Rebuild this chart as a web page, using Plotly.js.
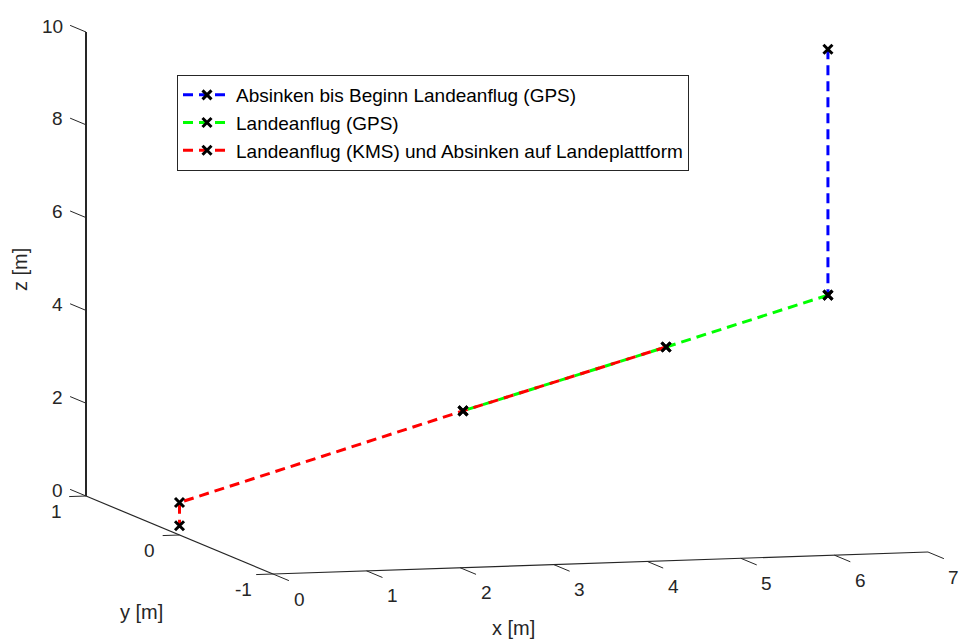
<!DOCTYPE html>
<html>
<head>
<meta charset="utf-8">
<script src="https://cdn.plot.ly/plotly-3.0.1.min.js"></script>
<style>html,body{margin:0;padding:0;background:#fff;}#chart{width:960px;height:640px;}</style>
</head>
<body>
<div id="chart"></div>
<script>
// ---------------- Data (metres) ----------------
const seriesNames = [
  'Absinken bis Beginn Landeanflug (GPS)',
  'Landeanflug (GPS)',
  'Landeanflug (KMS) und Absinken auf Landeplattform'
];
const seriesColors = ['#0000ff', '#00ff00', '#ff0000'];

const blueX = [6.93, 6.93];
const blueY = [0, 0];
const blueZ = [10.0, 4.7];

const greenX = [6.93, 5.2, 3.03];
const greenY = [0, 0, 0];
const greenZ = [4.7, 3.7, 2.47];

const redX = [5.2, 3.03, 0.0, 0.0];
const redY = [0, 0, 0, 0];
const redZ = [3.7, 2.47, 0.7, 0.2];

const xTicks = [0, 1, 2, 3, 4, 5, 6, 7];
const yTicks = [-1, 0, 1];
const zTicks = [0, 2, 4, 6, 8, 10];

const xRange = [0, 7], yRange = [-1, 1], zRange = [0, 10];

// ---------------- 3D -> screen projection (orthographic view) ----------------
// screen position of the box corner (x=0, y=1, z=0) and unit axis vectors in px
const VIEW = {ox: 86, oy: 496, ex: [93.57, -3.14], ey: [-93.5, -39.0], ez: [0, -46.4]};
function proj(x, y, z) {
  const dy = y - yRange[1];
  return [VIEW.ox + x * VIEW.ex[0] + dy * VIEW.ey[0] + z * VIEW.ez[0],
          VIEW.oy + x * VIEW.ex[1] + dy * VIEW.ey[1] + z * VIEW.ez[1]];
}
function projArr(X, Y, Z) {
  const px = [], py = [];
  for (let i = 0; i < X.length; i++) { const p = proj(X[i], Y[i], Z[i]); px.push(p[0]); py.push(p[1]); }
  return {x: px, y: py};
}

const FONT = 'Liberation Sans, Arial, Helvetica, sans-serif';
const AXC = '#262626';
const traces = [];

// axis lines + tick marks
function seg(a, b, w) {
  traces.push({type: 'scatter', mode: 'lines', x: [a[0], b[0]], y: [a[1], b[1]],
    line: {color: AXC, width: w}, showlegend: false, hoverinfo: 'skip'});
}
seg(proj(0, yRange[1], zRange[0]), proj(0, yRange[1], zRange[1]), 2);   // z axis
seg(proj(0, yRange[1], 0), proj(0, yRange[0], 0), 1.2);                  // y axis
seg(proj(xRange[0], yRange[0], 0), proj(xRange[1], yRange[0], 0), 1.2);  // x axis
const TL = 0.17;
zTicks.forEach(z => seg(proj(0, 1, z), proj(0, 1 + TL, z), 1));
xTicks.forEach(x => seg(proj(x, -1, 0), proj(x, -1 - TL, 0), 1));
yTicks.forEach(y => seg(proj(0, y, 0), proj(-0.18, y, 0), 1));

// data series
const xs = [blueX, greenX, redX], ys = [blueY, greenY, redY], zs = [blueZ, greenZ, redZ];
seriesNames.forEach((n, i) => {
  const p = projArr(xs[i], ys[i], zs[i]);
  traces.push({type: 'scatter', mode: 'lines+markers', name: n, x: p.x, y: p.y,
    line: {color: seriesColors[i], width: 3, dash: '10px,6px'},
    marker: {symbol: 'x-thin', size: 9, color: '#000', line: {color: '#000', width: 3}}});
});

// tick labels
const annotations = [];
function lab(text, p, dx, dy, xa, size) {
  annotations.push({text: text, x: p[0] + dx, y: p[1] + dy, xref: 'x', yref: 'y', showarrow: false,
    xanchor: xa, yanchor: 'middle', font: {family: FONT, size: size, color: AXC}});
}
zTicks.forEach(z => lab(String(z), proj(0, 1, z), -21, -6, 'right', 19));
yTicks.forEach(y => lab(String(y), proj(0, y, 0), -30, 15, 'center', 19));
xTicks.forEach(x => lab(String(x), proj(x, -1, 0), 26, 25, 'center', 19));
// axis titles
annotations.push({text: 'x [m]', x: 513, y: 628, xref: 'x', yref: 'y', showarrow: false,
  xanchor: 'center', yanchor: 'middle', font: {family: FONT, size: 20, color: AXC}});
annotations.push({text: 'y [m]', x: 141, y: 612, xref: 'x', yref: 'y', showarrow: false,
  xanchor: 'center', yanchor: 'middle', font: {family: FONT, size: 20, color: AXC}});
annotations.push({text: 'z [m]', x: 20, y: 270, xref: 'x', yref: 'y', showarrow: false, textangle: -90,
  xanchor: 'center', yanchor: 'middle', font: {family: FONT, size: 20, color: AXC}});

const layout = {
  width: 960, height: 640,
  margin: {l: 0, r: 0, t: 0, b: 0, pad: 0},
  paper_bgcolor: '#ffffff', plot_bgcolor: '#ffffff',
  xaxis: {range: [0, 960], visible: false, fixedrange: true},
  yaxis: {range: [640, 0], visible: false, fixedrange: true},
  showlegend: true,
  legend: {x: 177 / 960, y: 1 - 75 / 640, xanchor: 'left', yanchor: 'top',
    bordercolor: AXC, borderwidth: 1, bgcolor: '#ffffff',
    font: {family: FONT, size: 19, color: '#000'}, tracegroupgap: 0, itemwidth: 48},
  annotations: annotations
};

Plotly.newPlot('chart', traces, layout, {displayModeBar: false, staticPlot: true});
</script>
</body>
</html>
